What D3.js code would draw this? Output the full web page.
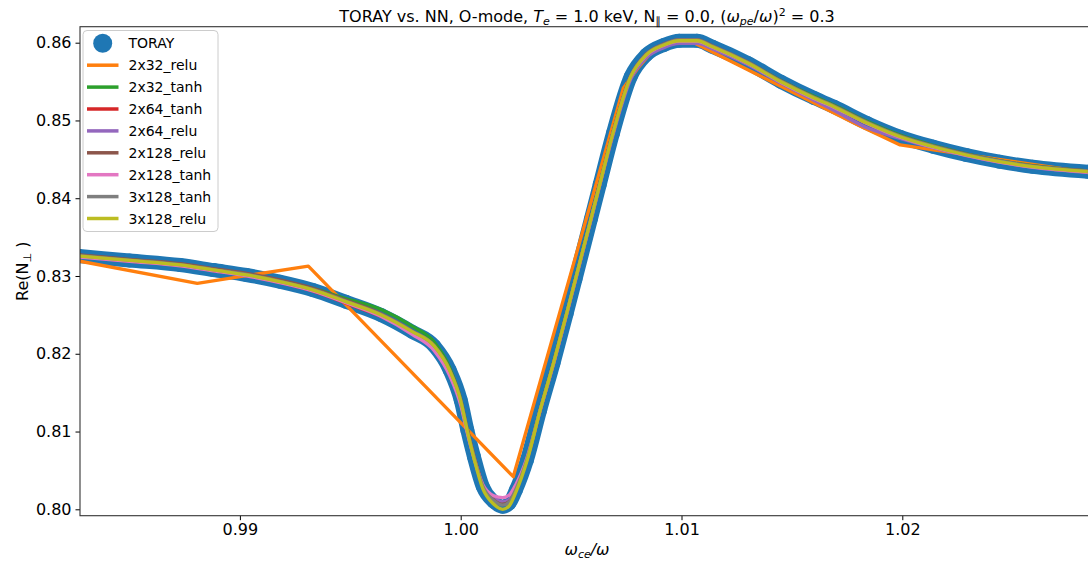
<!DOCTYPE html>
<html><head><meta charset="utf-8">
<script src="https://cdn.jsdelivr.net/npm/d3@7"></script>
<style>
body{margin:0;background:#fff}
svg{display:block}
text{font-family:"DejaVu Sans",sans-serif;fill:#000}
</style>
</head><body>
<svg id="chart" width="1088" height="563"></svg>
<script>
// ---- data ----
const xTicks = [0.99, 1.00, 1.01, 1.02];
const yTicks = [0.80, 0.81, 0.82, 0.83, 0.84, 0.85, 0.86];

const omegaRatio = [0.9827,0.9850,0.9873,0.9888,0.9903,0.9918,0.9933,0.9948,0.9964,0.9978,
  0.9988,0.9995,1.0000,1.0003,1.0006,1.0010,1.0015,1.0019,1.0022,1.0025,
  1.0030,1.0036,1.0042,1.0048,1.0052,1.0059,1.0063,1.0069,1.0077,1.0084,
  1.0092,1.0099,1.0107,1.0114,1.0130,1.0145,1.0160,1.0169,1.0184,1.0199,
  1.0214,1.0229,1.0244,1.0259,1.0284];

const toray = [0.83257,0.83199,0.83141,0.83077,0.83013,0.82927,0.82820,0.82669,0.82498,0.82284,
  0.82100,0.81791,0.81405,0.81020,0.80676,0.80291,0.80098,0.80033,0.80077,0.80248,
  0.80634,0.81277,0.81877,0.82520,0.82960,0.83735,0.84180,0.84840,0.85563,0.85842,
  0.85971,0.86025,0.86025,0.85948,0.85739,0.85498,0.85289,0.85177,0.84967,0.84791,
  0.84662,0.84556,0.84470,0.84405,0.84341];

// 2x32_relu is piecewise linear, read at its kinks
const relu2x32X = [0.98276,0.98807,0.99310,1.00238,1.00736,1.00803,1.00857,1.00925,1.01038,1.01808,1.01990,1.02149,1.02868];
const relu2x32Y = [0.83190,0.82906,0.83128,0.80419,0.85413,0.85674,0.85854,0.85970,0.86024,0.84929,0.84685,0.84620,0.84320];

const tanh2x32 = [0.83267,0.83209,0.83151,0.83087,0.83023,0.82937,0.82840,0.82709,0.82568,0.82354,
  0.82150,0.81821,0.81415,0.81030,0.80686,0.80301,0.80118,0.80063,0.80097,0.80258,
  0.80644,0.81287,0.81887,0.82530,0.82970,0.83745,0.84190,0.84850,0.85563,0.85832,
  0.85961,0.86015,0.86020,0.85950,0.85750,0.85515,0.85310,0.85199,0.84989,0.84811,
  0.84680,0.84572,0.84485,0.84419,0.84353];
const tanh2x64 = [0.83250,0.83192,0.83134,0.83070,0.83005,0.82918,0.82808,0.82650,0.82478,0.82270,
  0.82085,0.81770,0.81385,0.81010,0.80680,0.80310,0.80130,0.80085,0.80115,0.80270,
  0.80640,0.81270,0.81870,0.82515,0.82955,0.83730,0.84175,0.84835,0.85560,0.85840,
  0.85968,0.86020,0.86018,0.85942,0.85735,0.85495,0.85286,0.85174,0.84964,0.84788,
  0.84659,0.84553,0.84467,0.84402,0.84338];
const relu2x64 = [0.83255,0.83197,0.83139,0.83075,0.83011,0.82925,0.82818,0.82667,0.82494,0.82278,
  0.82088,0.81770,0.81380,0.81000,0.80670,0.80300,0.80140,0.80095,0.80125,0.80275,
  0.80640,0.81270,0.81865,0.82505,0.82945,0.83720,0.84165,0.84815,0.85530,0.85805,
  0.85935,0.85990,0.85992,0.85920,0.85720,0.85480,0.85260,0.85130,0.84905,0.84770,
  0.84650,0.84548,0.84463,0.84398,0.84333];
const relu2x128 = [0.83272,0.83215,0.83158,0.83095,0.83033,0.82950,0.82843,0.82690,0.82515,0.82295,
  0.82105,0.81795,0.81410,0.81025,0.80685,0.80305,0.80120,0.80065,0.80100,0.80260,
  0.80640,0.81280,0.81880,0.82522,0.82962,0.83738,0.84185,0.84848,0.85575,0.85855,
  0.85985,0.86040,0.86040,0.85962,0.85752,0.85510,0.85300,0.85188,0.84978,0.84802,
  0.84673,0.84567,0.84481,0.84416,0.84352];
const tanh2x128 = [0.83245,0.83188,0.83130,0.83066,0.83002,0.82916,0.82808,0.82655,0.82478,0.82250,
  0.82040,0.81720,0.81340,0.80980,0.80660,0.80320,0.80175,0.80150,0.80185,0.80320,
  0.80660,0.81275,0.81870,0.82515,0.82955,0.83730,0.84178,0.84838,0.85560,0.85838,
  0.85968,0.86022,0.86022,0.85944,0.85734,0.85492,0.85283,0.85171,0.84961,0.84785,
  0.84656,0.84550,0.84464,0.84399,0.84335];
const tanh3x128 = [0.83262,0.83205,0.83147,0.83083,0.83020,0.82934,0.82828,0.82678,0.82507,0.82292,
  0.82105,0.81793,0.81405,0.81022,0.80680,0.80298,0.80112,0.80053,0.80095,0.80260,
  0.80640,0.81280,0.81880,0.82522,0.82962,0.83737,0.84183,0.84845,0.85570,0.85850,
  0.85980,0.86035,0.86035,0.85957,0.85748,0.85507,0.85298,0.85186,0.84976,0.84800,
  0.84671,0.84565,0.84479,0.84414,0.84350];
const relu3x128 = [0.83258,0.83200,0.83142,0.83078,0.83014,0.82928,0.82822,0.82670,0.82500,0.82285,
  0.82098,0.81785,0.81395,0.81005,0.80655,0.80265,0.80065,0.80000,0.80045,0.80220,
  0.80620,0.81275,0.81877,0.82520,0.82960,0.83735,0.84180,0.84840,0.85563,0.85842,
  0.85971,0.86025,0.86025,0.85948,0.85739,0.85498,0.85289,0.85177,0.84967,0.84791,
  0.84662,0.84556,0.84470,0.84405,0.84341];

const seriesNames = ["2x32_relu","2x32_tanh","2x64_tanh","2x64_relu","2x128_relu","2x128_tanh","3x128_tanh","3x128_relu"];
const seriesColors = ["#ff7f0e","#2ca02c","#d62728","#9467bd","#8c564b","#e377c2","#7f7f7f","#bcbd22"];
const torayColor = "#1f77b4";

// ---- layout ----
const W = 1088, H = 563;
const pL = 80, pR = 1094, pT = 26.7, pB = 515.7;

const svg = d3.select("#chart");
svg.append("rect").attr("width", W).attr("height", H).attr("fill", "#fff");

const x = d3.scaleLinear().domain([0.982758, 1.028682]).range([pL, pR]);
const y = d3.scaleLinear().domain([0.799177, 0.862057]).range([pB, pT]);

svg.append("defs").append("clipPath").attr("id", "clip")
  .append("rect").attr("x", pL).attr("y", pT).attr("width", pR - pL).attr("height", pB - pT);

const plot = svg.append("g").attr("clip-path", "url(#clip)");

// TORAY markers (dense, forming a band)
const torayPts = omegaRatio.map((v, i) => [v, toray[i]]);
const lineSmooth = d3.line().x(d => x(d[0])).y(d => y(d[1])).curve(d3.curveMonotoneX);
plot.append("path").attr("d", lineSmooth(torayPts))
  .attr("fill", "none").attr("stroke", torayColor).attr("stroke-width", 14)
  .attr("stroke-linecap", "round").attr("stroke-linejoin", "round");
plot.selectAll("circle.toray").data(torayPts).join("circle")
  .attr("class", "toray").attr("cx", d => x(d[0])).attr("cy", d => y(d[1]))
  .attr("r", 7).attr("fill", torayColor);

// NN lines
const lineLinear = d3.line().x(d => x(d[0])).y(d => y(d[1]));
const orangePts = relu2x32X.map((v, i) => [v, relu2x32Y[i]]);
plot.append("path").attr("d", lineLinear(orangePts))
  .attr("fill", "none").attr("stroke", seriesColors[0]).attr("stroke-width", 3.3)
  .attr("stroke-linejoin", "round");

const smoothSeries = [tanh2x32, tanh2x64, relu2x64, relu2x128, tanh2x128, tanh3x128, relu3x128];
smoothSeries.forEach((vals, k) => {
  const pts = omegaRatio.map((v, i) => [v, vals[i]]);
  plot.append("path").attr("d", lineSmooth(pts))
    .attr("fill", "none").attr("stroke", seriesColors[k + 1]).attr("stroke-width", 3.3)
    .attr("stroke-linejoin", "round");
});

// ---- axes ----
const fmt = d3.format(".2f");
const xAxis = svg.append("g").attr("transform", `translate(0,${pB})`)
  .call(d3.axisBottom(x).tickValues(xTicks).tickFormat(fmt).tickSize(4.5).tickPadding(3.5).tickSizeOuter(0));
const yAxis = svg.append("g").attr("transform", `translate(${pL},0)`)
  .call(d3.axisLeft(y).tickValues(yTicks).tickFormat(fmt).tickSize(4.5).tickPadding(4).tickSizeOuter(0));
[xAxis, yAxis].forEach(a => {
  a.select(".domain").remove();
  a.selectAll("text").attr("font-size", 16).attr("font-family", "DejaVu Sans").attr("fill", "#000");
  a.selectAll("line").attr("stroke", "#000").attr("stroke-width", 1);
});
// spines
svg.append("rect").attr("x", pL).attr("y", pT).attr("width", pR - pL).attr("height", pB - pT)
  .attr("fill", "none").attr("stroke", "#333").attr("stroke-width", 1.1);

// ---- title ----
const title = svg.append("text").attr("x", (pL + pR) / 2).attr("y", 21.5)
  .attr("text-anchor", "middle").attr("font-size", 16);
title.append("tspan").text("TORAY vs. NN, O-mode, ");
title.append("tspan").attr("font-style", "italic").text("T");
title.append("tspan").attr("font-style", "italic").attr("font-size", 11).attr("dy", 3).text("e");
title.append("tspan").attr("dy", -3).text(" = 1.0 keV, N");
title.append("tspan").attr("font-size", 11).attr("dy", 3).text("\u2225");
title.append("tspan").attr("dy", -3).text(" = 0.0, (");
title.append("tspan").attr("font-style", "italic").text("\u03c9");
title.append("tspan").attr("font-style", "italic").attr("font-size", 11).attr("dy", 3).text("pe");
title.append("tspan").attr("dy", -3).text("/");
title.append("tspan").attr("font-style", "italic").text("\u03c9");
title.append("tspan").text(")");
title.append("tspan").attr("font-size", 11).attr("dy", -6).text("2");
title.append("tspan").attr("dy", 6).text(" = 0.3");

// ---- axis labels ----
const xl = svg.append("text").attr("x", (pL + pR) / 2).attr("y", 555)
  .attr("text-anchor", "middle").attr("font-size", 16);
xl.append("tspan").attr("font-style", "italic").text("\u03c9");
xl.append("tspan").attr("font-style", "italic").attr("font-size", 11).attr("dy", 3).text("ce");
xl.append("tspan").attr("dy", -3).attr("font-style", "italic").text("/\u03c9");

const yl = svg.append("text").attr("transform", `translate(28,${(pT + pB) / 2}) rotate(-90)`)
  .attr("text-anchor", "middle").attr("font-size", 16);
yl.append("tspan").text("Re(N");
yl.append("tspan").attr("font-size", 11).attr("dy", 3).text("\u22a5");
yl.append("tspan").attr("dy", -3).text(" )");

// ---- legend ----
const lg = svg.append("g");
lg.append("rect").attr("x", 83).attr("y", 30.5).attr("width", 135).attr("height", 201)
  .attr("rx", 4).attr("fill", "#fff").attr("fill-opacity", 0.8).attr("stroke", "#ccc").attr("stroke-width", 1);
const rowY = i => 43.3 + i * 21.9;
lg.append("circle").attr("cx", 102.7).attr("cy", rowY(0)).attr("r", 9.5).attr("fill", torayColor);
lg.append("text").attr("x", 128.5).attr("y", rowY(0) + 5).attr("font-size", 14).text("TORAY");
seriesNames.forEach((name, i) => {
  const yy = rowY(i + 1);
  lg.append("line").attr("x1", 87).attr("x2", 118.5).attr("y1", yy).attr("y2", yy)
    .attr("stroke", seriesColors[i]).attr("stroke-width", 3.5);
  lg.append("text").attr("x", 128.5).attr("y", yy + 5).attr("font-size", 14).text(name);
});
</script>
</body></html>
